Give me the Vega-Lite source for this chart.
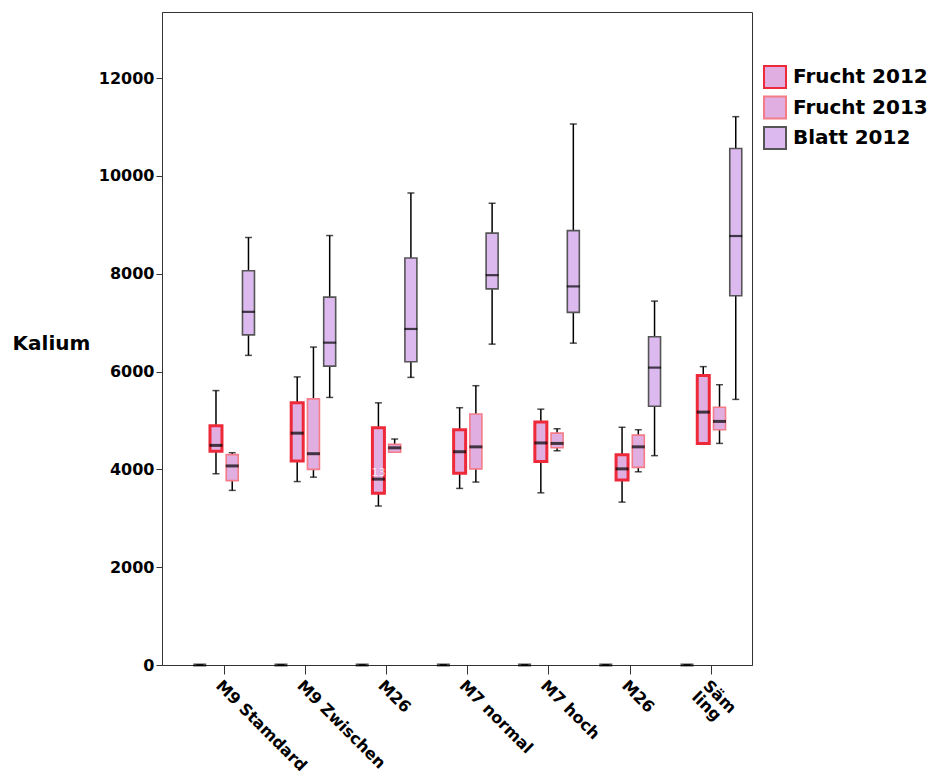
{
  "$schema": "https://vega.github.io/schema/vega-lite/v6.json",
  "width": 590,
  "height": 653,
  "autosize": {"type": "none"},
  "padding": {"left": 162, "top": 12, "right": 179, "bottom": 111},
  "background": "white",
  "config": {
    "font": "DejaVu Sans",
    "view": {"stroke": "#333333", "strokeWidth": 1},
    "axis": {
      "grid": false,
      "domainColor": "#333333",
      "tickColor": "#333333",
      "labelColor": "black",
      "labelFont": "DejaVu Sans",
      "labelFontWeight": "bold",
      "titleFont": "DejaVu Sans"
    }
  },
  "data": {
    "values": [
      {"grp": "M9 Stamdard", "series": "Blatt 2013", "lo": 0, "q1": 0, "med": 0, "q3": 0, "hi": 0},
      {"grp": "M9 Stamdard", "series": "Frucht 2012", "lo": 3910, "q1": 4370, "med": 4490, "q3": 4890, "hi": 5610},
      {"grp": "M9 Stamdard", "series": "Frucht 2013", "lo": 3570, "q1": 3770, "med": 4070, "q3": 4300, "hi": 4340},
      {"grp": "M9 Stamdard", "series": "Blatt 2012", "lo": 6330, "q1": 6750, "med": 7220, "q3": 8060, "hi": 8740},
      {"grp": "M9 Zwischen", "series": "Blatt 2013", "lo": 0, "q1": 0, "med": 0, "q3": 0, "hi": 0},
      {"grp": "M9 Zwischen", "series": "Frucht 2012", "lo": 3750, "q1": 4170, "med": 4740, "q3": 5360, "hi": 5890},
      {"grp": "M9 Zwischen", "series": "Frucht 2013", "lo": 3840, "q1": 4000, "med": 4320, "q3": 5440, "hi": 6500},
      {"grp": "M9 Zwischen", "series": "Blatt 2012", "lo": 5470, "q1": 6110, "med": 6590, "q3": 7520, "hi": 8780},
      {"grp": "M26", "series": "Blatt 2013", "lo": 0, "q1": 0, "med": 0, "q3": 0, "hi": 0},
      {"grp": "M26", "series": "Frucht 2012", "lo": 3250, "q1": 3510, "med": 3800, "q3": 4850, "hi": 5360},
      {"grp": "M26", "series": "Frucht 2013", "lo": 4350, "q1": 4350, "med": 4440, "q3": 4510, "hi": 4620},
      {"grp": "M26", "series": "Blatt 2012", "lo": 5880, "q1": 6200, "med": 6870, "q3": 8320, "hi": 9650},
      {"grp": "M7 normal", "series": "Blatt 2013", "lo": 0, "q1": 0, "med": 0, "q3": 0, "hi": 0},
      {"grp": "M7 normal", "series": "Frucht 2012", "lo": 3610, "q1": 3920, "med": 4360, "q3": 4810, "hi": 5260},
      {"grp": "M7 normal", "series": "Frucht 2013", "lo": 3740, "q1": 4010, "med": 4460, "q3": 5130, "hi": 5710},
      {"grp": "M7 normal", "series": "Blatt 2012", "lo": 6560, "q1": 7690, "med": 7970, "q3": 8830, "hi": 9440},
      {"grp": "M7 hoch", "series": "Blatt 2013", "lo": 0, "q1": 0, "med": 0, "q3": 0, "hi": 0},
      {"grp": "M7 hoch", "series": "Frucht 2012", "lo": 3520, "q1": 4160, "med": 4540, "q3": 4970, "hi": 5230},
      {"grp": "M7 hoch", "series": "Frucht 2013", "lo": 4380, "q1": 4440, "med": 4530, "q3": 4740, "hi": 4830},
      {"grp": "M7 hoch", "series": "Blatt 2012", "lo": 6580, "q1": 7210, "med": 7740, "q3": 8880, "hi": 11060},
      {"grp": "M26 ", "series": "Blatt 2013", "lo": 0, "q1": 0, "med": 0, "q3": 0, "hi": 0},
      {"grp": "M26 ", "series": "Frucht 2012", "lo": 3330, "q1": 3780, "med": 4010, "q3": 4300, "hi": 4860},
      {"grp": "M26 ", "series": "Frucht 2013", "lo": 3950, "q1": 4040, "med": 4460, "q3": 4700, "hi": 4810},
      {"grp": "M26 ", "series": "Blatt 2012", "lo": 4280, "q1": 5290, "med": 6080, "q3": 6710, "hi": 7440},
      {"grp": "Säm ling", "series": "Blatt 2013", "lo": 0, "q1": 0, "med": 0, "q3": 0, "hi": 0},
      {"grp": "Säm ling", "series": "Frucht 2012", "lo": 4530, "q1": 4530, "med": 5170, "q3": 5920, "hi": 6100},
      {"grp": "Säm ling", "series": "Frucht 2013", "lo": 4530, "q1": 4810, "med": 4980, "q3": 5270, "hi": 5730},
      {"grp": "Säm ling", "series": "Blatt 2012", "lo": 5430, "q1": 7550, "med": 8770, "q3": 10560, "hi": 11210}
    ]
  },
  "encoding": {
    "x": {
      "field": "grp",
      "type": "nominal",
      "scale": {
        "domain": ["M9 Stamdard", "M9 Zwischen", "M26", "M7 normal", "M7 hoch", "M26 ", "Säm ling"],
        "range": [21.5, 590],
        "paddingInner": 0,
        "paddingOuter": 0
      },
      "axis": {
        "title": null,
        "labelAngle": 45,
        "labelFontSize": 16,
        "tickSize": 9,
        "labelPadding": 3,
        "labelLineHeight": 16,
        "labelExpr": "datum.value === 'Säm ling' ? ['Säm', 'ling'] : trim(datum.value)"
      }
    },
    "xOffset": {
      "field": "series",
      "type": "nominal",
      "scale": {
        "domain": ["Blatt 2013", "Frucht 2012", "Frucht 2013", "Blatt 2012"],
        "paddingInner": 0,
        "paddingOuter": 0.5
      }
    }
  },
  "layer": [
    {
      "mark": {"type": "rule", "color": "black", "strokeWidth": 1.5},
      "encoding": {
        "y": {
          "field": "lo",
          "type": "quantitative",
          "scale": {"domain": [0, 13350], "nice": false, "zero": true},
          "axis": {
            "title": "Kalium",
            "values": [0, 2000, 4000, 6000, 8000, 10000, 12000],
            "format": "d",
            "labelFontSize": 16,
            "tickSize": 6,
            "labelPadding": 2,
            "titleAngle": 0,
            "titleFontSize": 20,
            "titleFontWeight": "bold",
            "titleColor": "black",
            "titleAlign": "center",
            "titleBaseline": "middle",
            "titleX": -111,
            "titleY": 331
          }
        },
        "y2": {"field": "hi"}
      }
    },
    {
      "mark": {"type": "tick", "color": "black", "size": 7, "thickness": 1.5},
      "encoding": {"y": {"field": "lo", "type": "quantitative", "title": "Kalium"}}
    },
    {
      "mark": {"type": "tick", "color": "black", "size": 7, "thickness": 1.5},
      "encoding": {"y": {"field": "hi", "type": "quantitative", "title": "Kalium"}}
    },
    {
      "transform": [{"filter": "datum.series !== 'Blatt 2013'"}],
      "mark": {"type": "bar", "size": 12},
      "encoding": {
        "y": {"field": "q1", "type": "quantitative", "title": "Kalium"},
        "y2": {"field": "q3"},
        "fill": {
          "field": "series",
          "type": "nominal",
          "scale": {
            "domain": ["Blatt 2013", "Frucht 2012", "Frucht 2013", "Blatt 2012"],
            "range": ["#dcbaf0", "#e0aee0", "#e0aee0", "#dcbaf0"]
          },
          "legend": {
            "values": ["Frucht 2012", "Frucht 2013", "Blatt 2012"],
            "title": null,
            "orient": "none",
            "legendX": 601,
            "legendY": 53,
            "padding": 0,
            "symbolType": "square",
            "symbolSize": 484,
            "symbolStrokeWidth": 2,
            "labelFontSize": 20,
            "labelFontWeight": "bold",
            "labelColor": "black",
            "labelFont": "DejaVu Sans",
            "labelOffset": 6,
            "rowPadding": 0.5
          }
        },
        "stroke": {
          "field": "series",
          "type": "nominal",
          "scale": {
            "domain": ["Blatt 2013", "Frucht 2012", "Frucht 2013", "Blatt 2012"],
            "range": ["#555555", "#ee2a3a", "#f47c88", "#555555"]
          },
          "legend": {
            "values": ["Frucht 2012", "Frucht 2013", "Blatt 2012"],
            "title": null,
            "orient": "none",
            "legendX": 601,
            "legendY": 53,
            "padding": 0,
            "symbolType": "square",
            "symbolSize": 484,
            "symbolStrokeWidth": 2,
            "labelFontSize": 20,
            "labelFontWeight": "bold",
            "labelColor": "black",
            "labelFont": "DejaVu Sans",
            "labelOffset": 6,
            "rowPadding": 0.5
          }
        },
        "strokeWidth": {
          "condition": {"test": "datum.series === 'Frucht 2012'", "value": 3},
          "value": 1.6
        }
      }
    },
    {
      "transform": [{"filter": "datum.series !== 'Blatt 2012'"}],
      "mark": {"type": "tick", "color": "black", "size": 13, "thickness": 3},
      "encoding": {"y": {"field": "med", "type": "quantitative", "title": "Kalium"}}
    },
    {
      "transform": [{"filter": "datum.series === 'Blatt 2012'"}],
      "mark": {"type": "tick", "color": "black", "size": 13, "thickness": 2.2},
      "encoding": {"y": {"field": "med", "type": "quantitative", "title": "Kalium"}}
    },
    {
      "data": {"values": [{"grp": "M26", "series": "Frucht 2012", "v": 3930, "label": "13"}]},
      "mark": {"type": "text", "color": "white", "opacity": 0.75, "fontSize": 11, "align": "center", "baseline": "middle"},
      "encoding": {
        "y": {"field": "v", "type": "quantitative", "title": "Kalium"},
        "text": {"field": "label"}
      }
    }
  ]
}
